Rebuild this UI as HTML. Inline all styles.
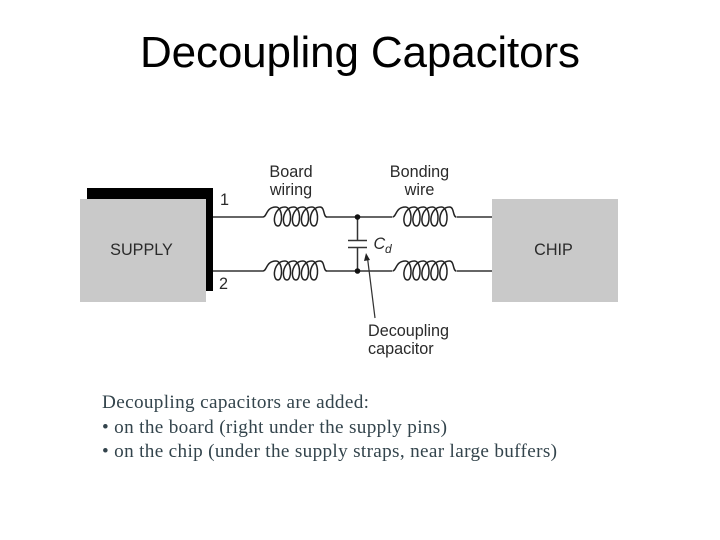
<!DOCTYPE html>
<html>
<head>
<meta charset="utf-8">
<style>
html,body{margin:0;padding:0;background:#fff;width:720px;height:540px;overflow:hidden}
svg{display:block}
.s{font-family:"Liberation Sans",Arial,sans-serif;fill:#2a2a2a;font-size:16.2px}
.b{font-family:"Liberation Serif","Times New Roman",serif;fill:#33444c;font-size:19.2px}
.w{fill:none;stroke:#333;stroke-width:1.5}
.c{fill:none;stroke:#222;stroke-width:1.5}
</style>
</head>
<body>
<svg width="720" height="540" viewBox="0 0 720 540" xmlns="http://www.w3.org/2000/svg">
<text x="360" y="67" text-anchor="middle" font-family="Liberation Sans, Arial, sans-serif" font-size="44" fill="#000" textLength="440" lengthAdjust="spacing">Decoupling Capacitors</text>

<rect x="87" y="188" width="126" height="11" fill="#000"/>
<rect x="206" y="188" width="7" height="103" fill="#000"/>
<rect x="80" y="199" width="126" height="103" fill="#c9c9c9"/>
<rect x="492" y="199" width="126" height="103" fill="#c9c9c9"/>

<path class="w" d="M213 217H263M327 217H392M457 217H492M213 271H263M327 271H392M457 271H492"/>
<path class="w" d="M357.500 217V240.500M357.500 247.500V271M348 240.500H367M348 247.500H367"/>
<circle cx="357.500" cy="217" r="2.800" fill="#111"/>
<circle cx="357.500" cy="271" r="2.800" fill="#111"/>

<path class="c" d="M263 217C267 217 266 207 276 207C283 207 283 226 278 226C272 226 273 207 285 207C292 207 292 226 287 226C281 226 282 207 294 207C301 207 301 226 296 226C290 226 291 207 303 207C310 207 310 226 305 226C299 226 300 207 312 207C319 207 319 226 314 226C308 226 309 207 320 207C325 207 323 217 327 217"/>
<path class="c" transform="translate(0 54)" d="M263 217C267 217 266 207 276 207C283 207 283 226 278 226C272 226 273 207 285 207C292 207 292 226 287 226C281 226 282 207 294 207C301 207 301 226 296 226C290 226 291 207 303 207C310 207 310 226 305 226C299 226 300 207 312 207C319 207 319 226 314 226C308 226 309 207 320 207C325 207 323 217 327 217"/>
<path class="c" transform="translate(129.500 0)" d="M263 217C267 217 266 207 276 207C283 207 283 226 278 226C272 226 273 207 285 207C292 207 292 226 287 226C281 226 282 207 294 207C301 207 301 226 296 226C290 226 291 207 303 207C310 207 310 226 305 226C299 226 300 207 312 207C319 207 319 226 314 226C308 226 309 207 320 207C325 207 323 217 327 217"/>
<path class="c" transform="translate(129.500 54)" d="M263 217C267 217 266 207 276 207C283 207 283 226 278 226C272 226 273 207 285 207C292 207 292 226 287 226C281 226 282 207 294 207C301 207 301 226 296 226C290 226 291 207 303 207C310 207 310 226 305 226C299 226 300 207 312 207C319 207 319 226 314 226C308 226 309 207 320 207C325 207 323 217 327 217"/>

<path d="M375 318L367.500 258" stroke="#333" stroke-width="1.200" fill="none"/>
<path d="M366 253L364 261L370 260Z" fill="#222"/>

<text class="s" x="291" y="177" text-anchor="middle">Board</text>
<text class="s" x="291" y="195" text-anchor="middle">wiring</text>
<text class="s" x="419.500" y="177" text-anchor="middle">Bonding</text>
<text class="s" x="419.500" y="195" text-anchor="middle">wire</text>
<text class="s" x="220" y="205">1</text>
<text class="s" x="219" y="289">2</text>
<text class="s" x="141.500" y="255" text-anchor="middle">SUPPLY</text>
<text class="s" x="553.500" y="255" text-anchor="middle">CHIP</text>
<text class="s" x="373.500" y="249" font-style="italic">C</text>
<text class="s" x="385" y="253" font-style="italic" style="font-size:12px">d</text>
<text class="s" x="368" y="336">Decoupling</text>
<text class="s" x="368" y="354">capacitor</text>

<text class="b" x="102" y="408" textLength="267" lengthAdjust="spacing">Decoupling capacitors are added:</text>
<text class="b" x="102" y="433" textLength="345" lengthAdjust="spacing">• on the board (right under the supply pins)</text>
<text class="b" x="102" y="457" textLength="455" lengthAdjust="spacing">• on the chip (under the supply straps, near large buffers)</text>
</svg>
</body>
</html>
